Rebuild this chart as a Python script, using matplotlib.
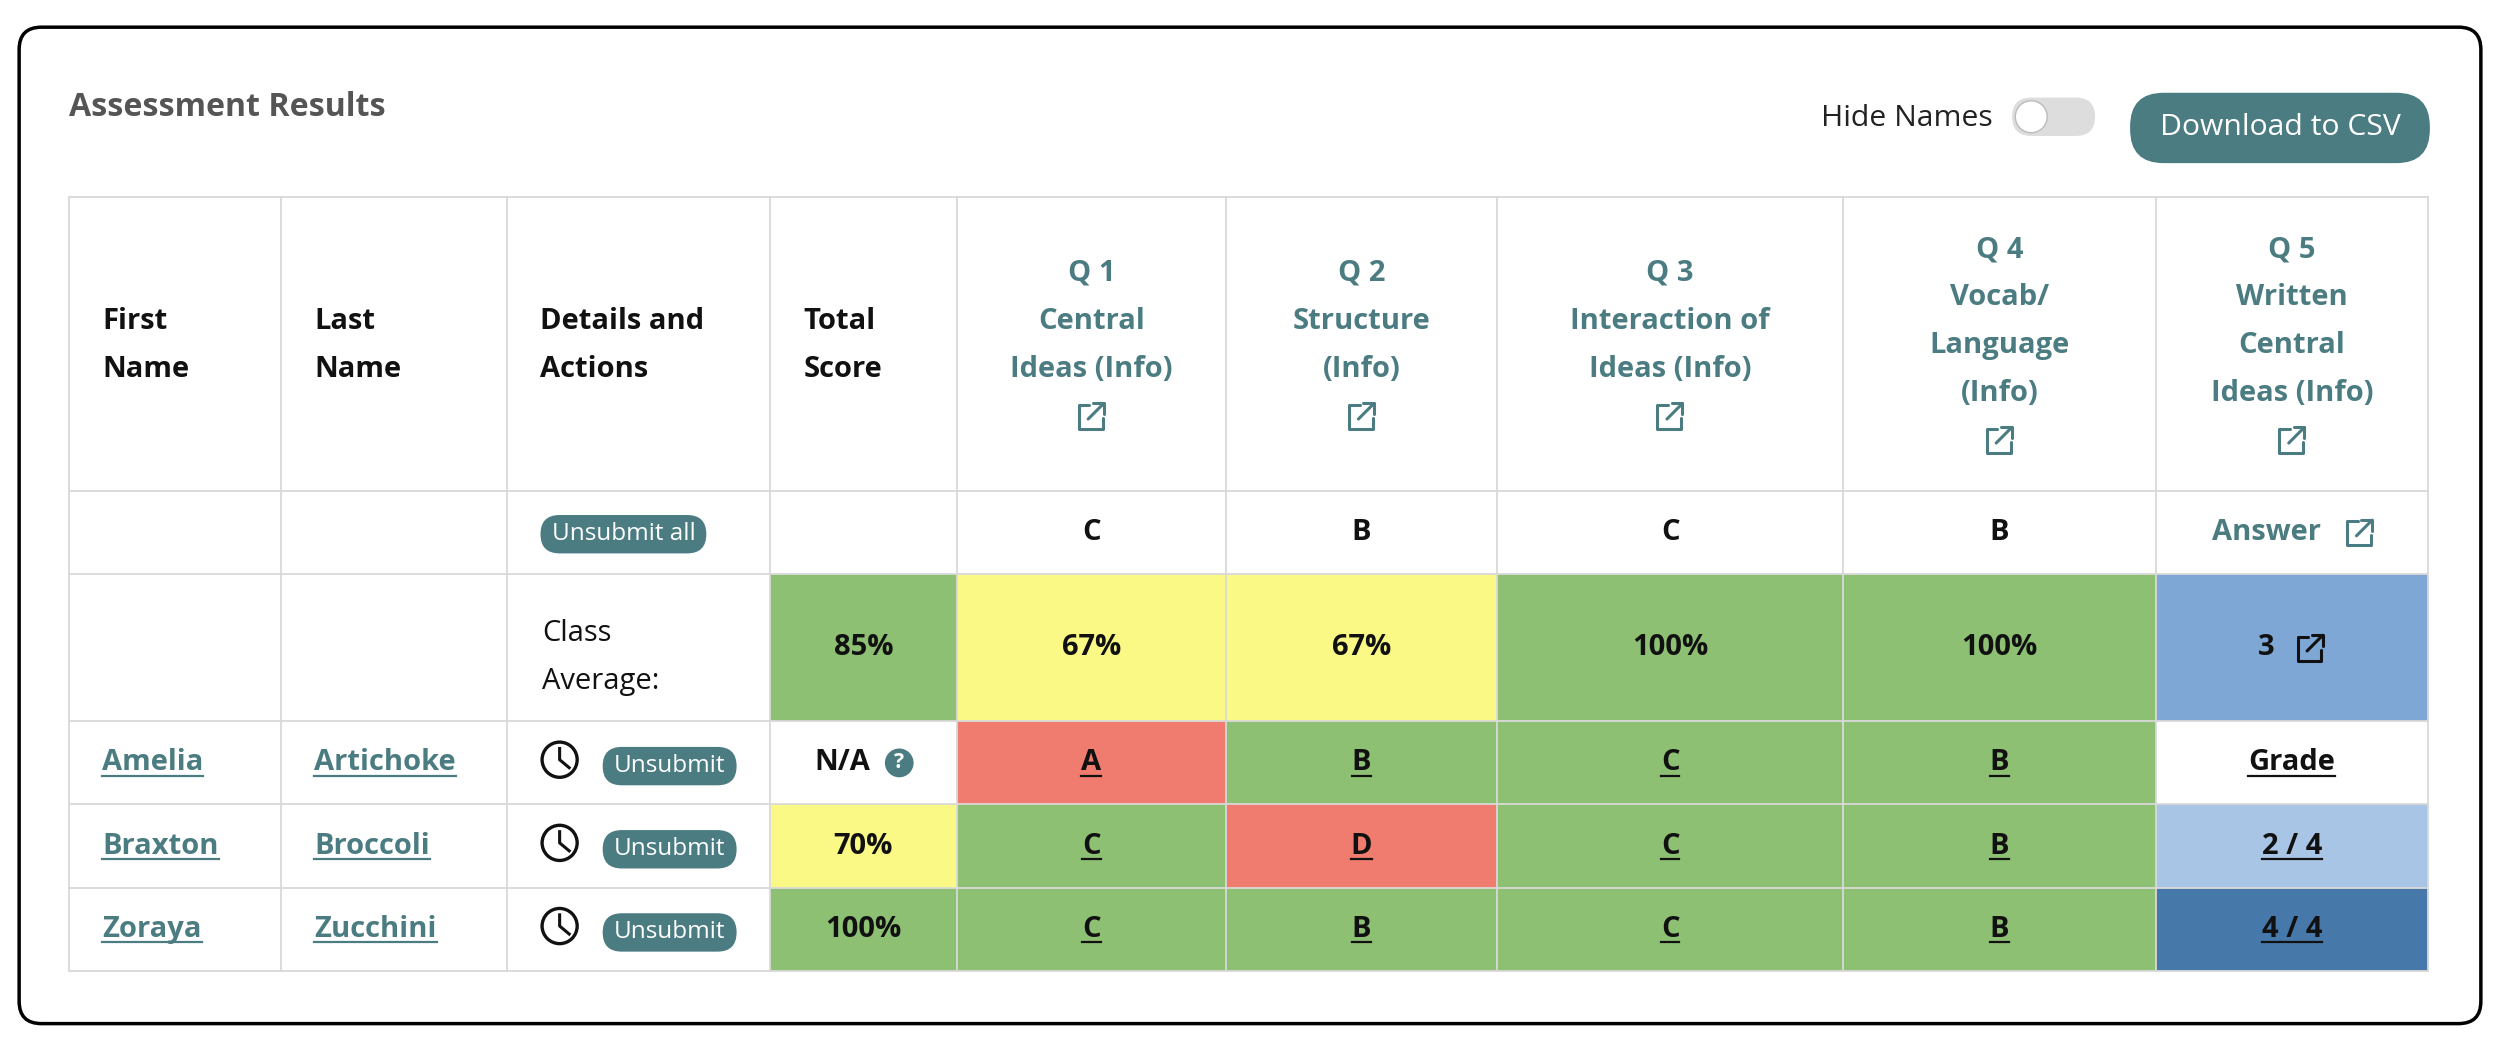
import matplotlib.pyplot as plt
from matplotlib.patches import FancyBboxPatch, Rectangle, Circle

plt.rcParams['font.family'] = ['Open Sans', 'DejaVu Sans']

# ---- table data ----
first_names = ['Amelia', 'Braxton', 'Zoraya']
last_names = ['Artichoke', 'Broccoli', 'Zucchini']
q_headers = ['Q 1\nCentral\nIdeas (Info)', 'Q 2\nStructure\n(Info)', 'Q 3\nInteraction of\nIdeas (Info)',
             'Q 4\nVocab/\nLanguage\n(Info)', 'Q 5\nWritten\nCentral\nIdeas (Info)']
answer_key = ['C', 'B', 'C', 'B', 'Answer']
class_avg = ['85%', '67%', '67%', '100%', '100%', '3']
avg_colors = ['green', 'yellow', 'yellow', 'green', 'green', 'blue']
total_scores = ['N/A', '70%', '100%']
total_colors = ['white', 'yellow', 'green']
answers = [['A', 'B', 'C', 'B', 'Grade'],
           ['C', 'D', 'C', 'B', '2 / 4'],
           ['C', 'B', 'C', 'B', '4 / 4']]
answer_colors = [['red', 'green', 'green', 'green', 'white'],
                 ['green', 'red', 'green', 'green', 'lightblue'],
                 ['green', 'green', 'green', 'green', 'darkblue']]

palette = {'green': '#8dc073', 'yellow': '#fbf985', 'red': '#ef7c6e', 'blue': '#7ea7d6',
           'lightblue': '#a9c5e5', 'darkblue': '#4679aa', 'white': 'white'}
teal = '#4b7c81'
grid = '#d9d9d9'

W, H = 1568, 654
col_x = [43, 176, 318, 483, 600, 769, 939, 1156, 1352, 1523]
row_y = [123, 307, 359, 451, 503, 555, 607]

def fs(px):
    return px * 1.148 * 1.22

fig = plt.figure(figsize=(25, 10.46), dpi=100)
ax = fig.add_axes([0, 0, 1, 1])
ax.set_xlim(0, W)
ax.set_ylim(H, 0)
ax.axis('off')
renderer = fig.canvas.get_renderer()

def underline(t, color):
    bb = t.get_window_extent(renderer).transformed(ax.transData.inverted())
    y = max(bb.y0, bb.y1) - 1
    ax.plot([bb.x0, bb.x1], [y, y], color=color, lw=1.6)

ax.add_patch(FancyBboxPatch((12, 17), 1544, 623, boxstyle='round,pad=0,rounding_size=14',
                            fc='white', ec='black', lw=2.5))
ax.text(43, 67, 'Assessment Results', fontsize=fs(16.5), weight='bold', color='#555555', va='center')

# hide names toggle and download button
ax.text(1250, 74, 'Hide Names', fontsize=fs(15.5), ha='right', va='center', color='#222222')
ax.add_patch(FancyBboxPatch((1262, 61), 52, 24, boxstyle='round,pad=0,rounding_size=12',
                            fc='#dddddd', ec='none'))
ax.add_patch(Circle((1274, 73), 10, fc='white', ec='#bbbbbb', lw=1))
ax.add_patch(FancyBboxPatch((1336, 58), 188, 44, boxstyle='round,pad=0,rounding_size=21',
                            fc=teal, ec='none'))
ax.text(1430, 80, 'Download to CSV', fontsize=fs(15.5), color='white', ha='center', va='center')

def cell(ci, ri, color):
    ax.add_patch(Rectangle((col_x[ci], row_y[ri]), col_x[ci + 1] - col_x[ci],
                           row_y[ri + 1] - row_y[ri], fc=palette[color], ec='none'))

def ctext(ci, ri, s, dx=0, color='#111111'):
    x = (col_x[ci] + col_x[ci + 1]) / 2 + dx
    y = (row_y[ri] + row_y[ri + 1]) / 2
    return ax.text(x, y, s, ha='center', va='center', fontsize=fs(15), weight='bold', color=color)

def ext_icon(x, y, s=16, color='#111111'):
    # external-link glyph
    ax.plot([x + s * 0.45, x, x, x + s, x + s], [y, y, y + s, y + s, y + s * 0.55],
            color=color, lw=2.2, solid_capstyle='round')
    ax.plot([x + s * 0.4, x + s * 1.05], [y + s * 0.6, y - s * 0.05], color=color, lw=2.2,
            solid_capstyle='round')
    ax.plot([x + s * 0.6, x + s * 1.05, x + s * 1.05], [y - s * 0.05, y - s * 0.05, y + s * 0.4],
            color=color, lw=2.2, solid_capstyle='round')

def button(cx, cy, w, label):
    ax.add_patch(FancyBboxPatch((cx - w / 2, cy - 12), w, 24, boxstyle='round,pad=0,rounding_size=12',
                                fc=teal, ec='none'))
    ax.text(cx, cy, label, ha='center', va='center', fontsize=fs(12.5), color='white')

# backgrounds
for i, c in enumerate(avg_colors):
    cell(3 + i, 2, c)
for r in range(3):
    cell(3, 3 + r, total_colors[r])
    for q in range(5):
        cell(4 + q, 3 + r, answer_colors[r][q])

# grid lines
for x in col_x:
    ax.plot([x, x], [row_y[0], row_y[-1]], color=grid, lw=1.3)
for y in row_y:
    ax.plot([col_x[0], col_x[-1]], [y, y], color=grid, lw=1.3)

# header
for ci, s in enumerate(['First\nName', 'Last\nName', 'Details and\nActions', 'Total\nScore']):
    for k, line in enumerate(s.split('\n')):
        ax.text(col_x[ci] + 21, 201 + 30 * k, line, ha='left', va='center', fontsize=fs(15),
                weight='bold', color='#111111')
for q, s in enumerate(q_headers):
    lines = s.split('\n')
    n = len(lines)
    x = (col_x[4 + q] + col_x[5 + q]) / 2
    first = 216 - n * 15
    for k, line in enumerate(lines):
        ax.text(x, first + 30 * k, line, ha='center', va='center', fontsize=fs(15), weight='bold',
                color=teal)
    ext_icon(x - 8, first + 30 * n - 8, 15, teal)

# answer key row
button(391, 334, 104, 'Unsubmit all')
for q, s in enumerate(answer_key):
    if s == 'Answer':
        ctext(4 + q, 1, s, dx=-16, color=teal)
        ext_icon(1472, 326, 15, teal)
    else:
        ctext(4 + q, 1, s)

# class average row
ax.text(340, 396, 'Class', ha='left', va='center', fontsize=fs(15), color='#111111')
ax.text(340, 426, 'Average:', ha='left', va='center', fontsize=fs(15), color='#111111')
for i, s in enumerate(class_avg):
    if s == '3':
        ctext(3 + i, 2, s, dx=-16)
        ext_icon(1441, 398, 15)
    else:
        ctext(3 + i, 2, s)

# student rows
for r in range(3):
    cy = (row_y[3 + r] + row_y[4 + r]) / 2
    for ci, nm in enumerate([first_names[r], last_names[r]]):
        t = ax.text(col_x[ci] + 21, cy, nm, ha='left', va='center', fontsize=fs(15), weight='bold',
                    color=teal)
        underline(t, teal)
    # clock
    ax.add_patch(Circle((351, cy - 2), 11, fc='none', ec='#111111', lw=2.4))
    ax.plot([351, 351, 357], [cy - 9, cy - 2, cy + 3], color='#111111', lw=2.2)
    button(420, cy + 2, 84, 'Unsubmit')
    if total_scores[r] == 'N/A':
        ctext(3, 3 + r, 'N/A', dx=-13)
        ax.add_patch(Circle((564, cy), 9, fc=teal, ec='none'))
        ax.text(564, cy, '?', ha='center', va='center', fontsize=fs(11), weight='bold', color='white')
    else:
        ctext(3, 3 + r, total_scores[r])
    for q in range(5):
        t = ctext(4 + q, 3 + r, answers[r][q])
        underline(t, '#111111')

fig.savefig('out.png', dpi=100)
